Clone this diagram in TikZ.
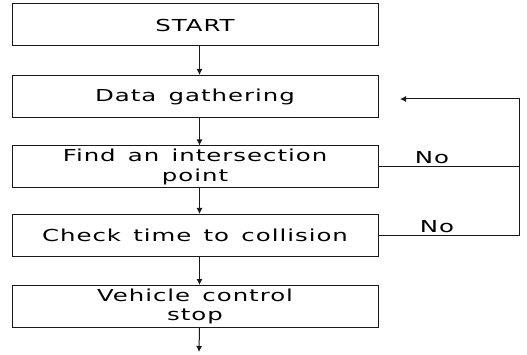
\documentclass[tikz,border=0pt]{standalone}
\usepackage{fontspec}
\usepackage{graphicx}
\setmainfont{DejaVu Sans}[LetterSpace=4, WordSpace=1.4]
\usetikzlibrary{arrows.meta}
\newcommand{\wtext}[1]{\scalebox{1.48}[1]{#1}}
\tikzset{
  stepbox/.style={draw=black!90, line width=1pt, minimum width=366pt, minimum height=42pt,
    inner sep=0pt, align=center, font=\fontsize{16.5}{19.5}\selectfont},
  flow/.style={draw=black!90, line width=1pt, -{Latex[length=6pt,width=6pt]}},
  link/.style={draw=black!90, line width=1pt},
  lbl/.style={font=\fontsize{16.5}{19.5}\selectfont, inner sep=0pt}
}
\begin{document}
\begin{tikzpicture}[x=1pt,y=-1pt]
\useasboundingbox (0,0) rectangle (527,355);
\node[stepbox] (start) at (195,25) {\wtext{START}};
\node[stepbox] (data) at (195,96.5) {\wtext{Data gathering}};
\node[stepbox] (find) at (195,167) {\wtext{Find an intersection}\\\wtext{point}};
\node[stepbox] (check) at (195,235.5) {\wtext{Check time to collision}};
\node[stepbox] (vehicle) at (195,306.5) {\wtext{Vehicle control}\\\wtext{stop}};
\coordinate (corner) at (519,99);
\coordinate (back) at (400,99);
\coordinate (out) at (199,352);
% main sequence
\draw[flow] ([xshift=4.5pt]start.south) -- ([xshift=4.5pt]data.north);
\draw[flow] ([xshift=4.5pt]data.south) -- ([xshift=4.5pt]find.north);
\draw[flow] ([xshift=4.5pt]find.south) -- ([xshift=4.5pt]check.north);
\draw[flow] ([xshift=4.5pt]check.south) -- ([xshift=4.5pt]vehicle.north);
\draw[flow] ([xshift=4.5pt]vehicle.south) -- (out);
% "No" branches back to data gathering
\draw[link] (find.east) -- (find.east -| corner);
\draw[flow] (check.east) -- (check.east -| corner) -- (corner) -- (back);
\node[lbl] (no1) at (432,158) {\wtext{No}};
\node[lbl] (no2) at (437,227) {\wtext{No}};
\end{tikzpicture}
\end{document}
